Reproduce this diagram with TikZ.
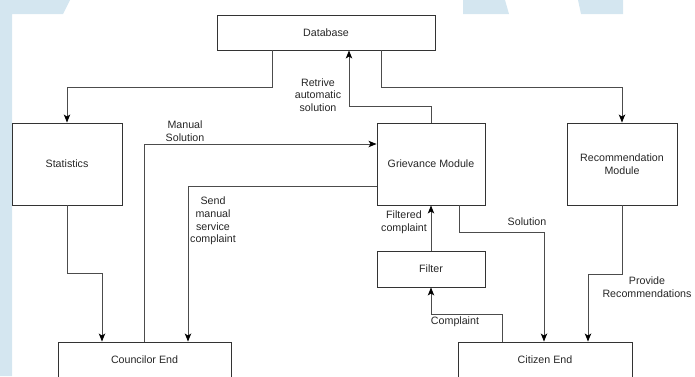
\documentclass[tikz,border=0pt]{standalone}
\usepackage{fontspec}
\setmainfont{Liberation Sans}
\usepackage{xcolor}
\usetikzlibrary{arrows.meta}
\definecolor{wmark}{RGB}{212,230,240}

\begin{document}
\begin{tikzpicture}[x=0.75pt,y=-0.75pt]
        \tikzstyle{blk} = [draw=black!80, line width=0.7pt, inner sep=0pt, align=center,
                           font=\fontsize{8}{9.6}\selectfont, text=black!85]
        \tikzstyle{lbl} = [inner sep=0pt, align=center, font=\fontsize{8}{9.6}\selectfont, text=black!85]
        \tikzstyle{arr} = [draw=black!70, line width=0.7pt, -{Stealth[length=6pt,width=4.8pt,inset=1.5pt,black]}]
        \useasboundingbox (0,0) rectangle (695,376);
        \fill[wmark] (0,0) -- (70,0) -- (63,14) -- (12,14) -- (12,376) -- (0,376) -- cycle;
        \fill[wmark] (463,0) -- (505,0) -- (509,14) -- (463,14) -- cycle;
        \fill[wmark] (578,0) -- (623,0) -- (623,14) -- (581,14) -- cycle;
        \node[blk, minimum width=163.5pt, minimum height=26.25pt] (db) at (326,32.5) {Database};
        \node[blk, minimum width=82.5pt, minimum height=61.5pt] (stat) at (67,164) {Statistics};
        \node[blk, minimum width=81pt, minimum height=61.5pt] (griev) at (431,164) {Grievance Module};
        \node[blk, minimum width=82.5pt, minimum height=61.5pt] (rec) at (622,164) {Recommendation\\Module};
        \node[blk, minimum width=81pt, minimum height=27pt] (filt) at (431,269) {Filter};
        \node[blk, minimum width=129.75pt, minimum height=27pt] (coun) at (144.5,360) {Councilor End};
        \node[blk, minimum width=130.5pt, minimum height=27pt] (cit) at (545,360) {Citizen End};
        \coordinate (b1) at (272,87);
        \coordinate (b2) at (381,87);
        \coordinate (b3) at (349,106);
        \coordinate (b4) at (102,273);
        \coordinate (b5) at (144,144);
        \coordinate (b6) at (188,186);
        \coordinate (b7) at (459,232);
        \coordinate (b8) at (544,232);
        \coordinate (b9) at (588,274);
        \coordinate (b10) at (502,314);
        \draw[arr] (db.south -| b1) -- (b1) -| (stat.north);
        \draw[arr] (db.south -| b2) -- (b2) -| (rec.north);
        \draw[arr] (griev.north) |- (b3) -- (db.south -| b3);
        \draw[arr] (stat.south) |- (b4) -- (coun.north -| b4);
        \draw[arr] (coun.north -| b5) -- (b5) -- (griev.west |- b5);
        \draw[arr] (griev.west |- b6) -- (b6) -- (coun.north -| b6);
        \draw[arr] (filt.north) -- (griev.south);
        \draw[arr] (griev.south -| b7) -- (b7) -- (b8) -- (cit.north -| b8);
        \draw[arr] (rec.south) |- (b9) -- (cit.north -| b9);
        \draw[arr] (cit.north -| b10) -- (b10) -| (filt.south);
        \node[lbl] (retrive) at (318,95) {Retrive\\automatic\\solution};
        \node[lbl] (manual) at (185,131) {Manual\\Solution};
        \node[lbl] (send) at (213,221) {Send\\manual\\service\\complaint};
        \node[lbl] (filtered) at (404,222) {Filtered\\complaint};
        \node[lbl] (solution) at (527,222) {Solution};
        \node[lbl] (provide) at (647,287) {Provide\\Recommendations};
        \node[lbl] (complaint) at (455,322) {Complaint};
    \end{tikzpicture}
\end{document}
